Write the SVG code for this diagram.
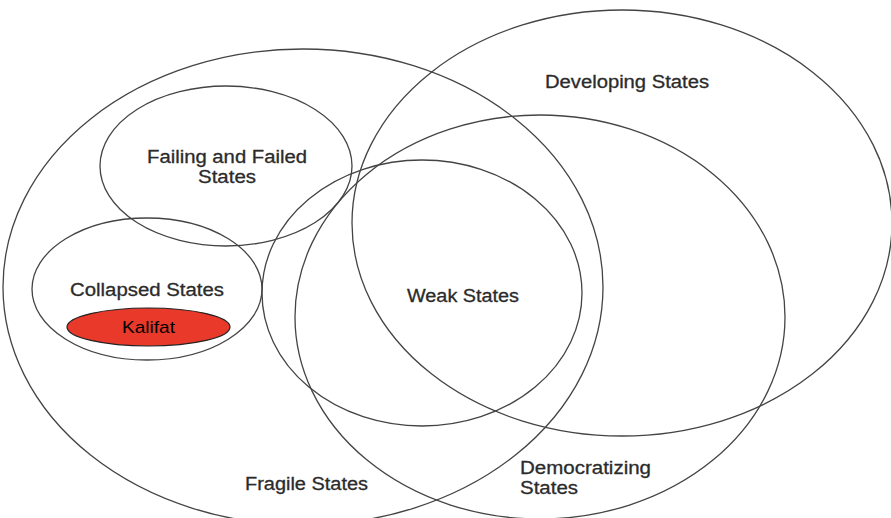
<svg xmlns="http://www.w3.org/2000/svg" width="891" height="518" viewBox="0 0 891 518">
<style>
.set{fill:none;stroke:#444;stroke-width:1.3}
.lbl{font-family:"Liberation Sans",Arial,sans-serif;font-size:18px;fill:#2b2b2b;stroke:#2b2b2b;stroke-width:0.3}
.k{font-family:"Liberation Sans",Arial,sans-serif;font-size:17px;fill:#000}
</style>
<rect width="891" height="518" fill="#fff"/>
<g id="fragile"><ellipse class="set" cx="303" cy="287" rx="300" ry="238"/>
<text class="lbl" x="245" y="490" textLength="123" lengthAdjust="spacingAndGlyphs">Fragile States</text></g>
<g id="developing"><ellipse class="set" cx="622" cy="223" rx="270" ry="213"/>
<text class="lbl" x="545" y="88" textLength="164" lengthAdjust="spacingAndGlyphs">Developing States</text></g>
<g id="democratizing"><ellipse class="set" cx="540" cy="317" rx="245" ry="202"/>
<text class="lbl" x="520" y="474" textLength="131" lengthAdjust="spacingAndGlyphs">Democratizing</text>
<text class="lbl" x="520" y="494" textLength="58" lengthAdjust="spacingAndGlyphs">States</text></g>
<g id="weak"><ellipse class="set" cx="422" cy="293" rx="160" ry="133"/>
<text class="lbl" x="407" y="302" textLength="112" lengthAdjust="spacingAndGlyphs">Weak States</text></g>
<g id="failing"><ellipse class="set" cx="226" cy="166" rx="126" ry="80"/>
<text class="lbl" x="147" y="163" textLength="160" lengthAdjust="spacingAndGlyphs">Failing and Failed</text>
<text class="lbl" x="198" y="183" textLength="58" lengthAdjust="spacingAndGlyphs">States</text></g>
<g id="collapsed"><ellipse class="set" cx="147" cy="289" rx="115" ry="71"/>
<text class="lbl" x="70" y="296" textLength="154" lengthAdjust="spacingAndGlyphs">Collapsed States</text></g>
<g id="kalifat"><ellipse cx="148.5" cy="327" rx="81.5" ry="19" fill="#e8392a" stroke="#222" stroke-width="1.2"/>
<text class="k" x="122" y="333" textLength="53" lengthAdjust="spacingAndGlyphs">Kalifat</text></g>
<g id="connectors"/>
</svg>
